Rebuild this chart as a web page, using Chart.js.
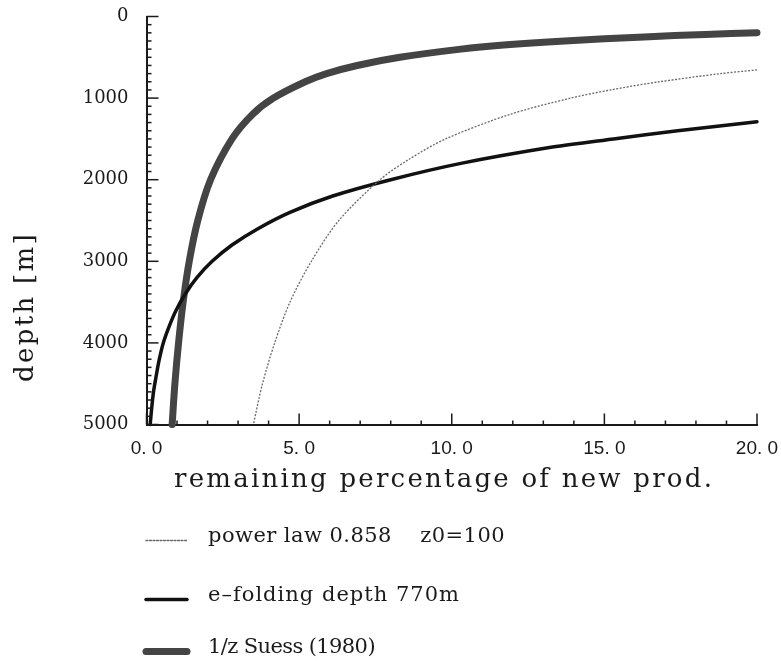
<!DOCTYPE html>
<html>
<head>
<meta charset="utf-8">
<title>remaining percentage of new production vs depth</title>
<script src="https://cdn.jsdelivr.net/npm/chart.js@4.4.1/dist/chart.umd.min.js"></script>
<style>
  html, body { margin: 0; padding: 0; background: #fff; }
  #wrap { width: 781px; height: 664px; }
</style>
</head>
<body>
<div id="wrap"><canvas id="chart" width="781" height="664"></canvas></div>
<script>
// values: depth [m] and remaining percentage for each curve
const powerDepth = [655, 700, 800, 900, 1000, 1200, 1500, 1750, 2000, 2500, 3000, 3500, 4000, 4500, 5000];
const powerPct   = [20.0, 18.8, 16.8, 15.2, 13.9, 11.9, 9.8, 8.6, 7.65, 6.3, 5.4, 4.7, 4.2, 3.8, 3.5];

const efoldDepth = [1290, 1400, 1500, 1600, 1800, 2000, 2200, 2400, 2600, 2800, 3000, 3200, 3400, 3600, 3800, 4000, 4200, 4400, 4600, 4800, 5000];
const efoldPct   = [20.0, 17.4, 15.3, 13.3, 10.3, 8.0, 6.1, 4.7, 3.65, 2.8, 2.15, 1.65, 1.27, 0.97, 0.74, 0.55, 0.42, 0.32, 0.23, 0.17, 0.12];

const suessDepth = [198, 220, 250, 300, 350, 400, 500, 600, 700, 800, 1000, 1200, 1500, 2000, 2500, 3000, 3500, 4000, 4500, 5000];
const suessPct   = [20.0, 18.3, 16.3, 13.7, 11.7, 10.3, 8.3, 6.9, 5.9, 5.2, 4.16, 3.47, 2.8, 2.1, 1.68, 1.4, 1.2, 1.05, 0.93, 0.84];

const legendLabels = ['power law 0.858    z0=100', 'e\u2013folding depth 770m', '1/z Suess (1980)'];

const xTickValues = [0, 5, 10, 15, 20];
const xTickLabels = ['0. 0', '5. 0', '10. 0', '15. 0', '20. 0'];
const yTickValues = [0, 1000, 2000, 3000, 4000, 5000];
const yTickLabels = ['0', '1000', '2000', '3000', '4000', '5000'];

const xTitle = 'remaining percentage of new prod.';
const yTitle = 'depth [m]';

function toPoints(pct, depth) {
  return pct.map((v, i) => ({ x: v, y: depth[i] }));
}

const INK = '#1a1a1a';
const SERIF = '"DejaVu Serif", serif';

// draw text spread (or squeezed) to a given width, like the typewriter lettering of the original
function fitText(ctx, text, x, y, width) {
  ctx.letterSpacing = '0px';
  const w = ctx.measureText(text).width;
  if ('letterSpacing' in ctx) {
    const gap = (width - w) / text.length;
    ctx.letterSpacing = gap.toFixed(2) + 'px';
    ctx.fillText(text, x, y);
    ctx.letterSpacing = '0px';
  } else {
    ctx.save();
    ctx.translate(x, y);
    ctx.scale(width / w, 1);
    ctx.fillText(text, 0, 0);
    ctx.restore();
  }
}

// inward ticks, axis titles and the stacked legend under the plot
const framePlugin = {
  id: 'frame',
  afterDraw(chart) {
    const { ctx, scales: { x, y } } = chart;
    const area = chart.chartArea;
    ctx.save();
    ctx.strokeStyle = INK;
    ctx.lineWidth = 1.5;
    // x ticks every 1, long at every 5
    for (let v = 0; v <= 20; v++) {
      const px = x.getPixelForValue(v);
      const len = v % 5 === 0 ? 11 : 4;
      ctx.beginPath();
      ctx.moveTo(px, area.bottom);
      ctx.lineTo(px, area.bottom - len);
      ctx.stroke();
    }
    // y ticks every 100, long at every 1000
    for (let v = 0; v <= 5000; v += 100) {
      const py = y.getPixelForValue(v);
      const len = v % 1000 === 0 ? 12 : 5;
      ctx.beginPath();
      ctx.moveTo(area.left, py);
      ctx.lineTo(area.left + len, py);
      ctx.stroke();
    }

    // axis titles
    ctx.fillStyle = INK;
    ctx.font = '26px ' + SERIF;
    ctx.textAlign = 'left';
    ctx.textBaseline = 'alphabetic';
    fitText(ctx, xTitle, 174, 487, 540);

    ctx.save();
    ctx.translate(33, 382);
    ctx.rotate(-Math.PI / 2);
    fitText(ctx, yTitle, 0, 0, 150);
    ctx.restore();

    // legend
    const rows = [542, 601, 653];
    const widths = [297, 252, 167];
    ctx.font = '21px ' + SERIF;
    chart.data.datasets.forEach((ds, i) => {
      const yy = rows[i];
      ctx.save();
      ctx.strokeStyle = ds.borderColor;
      ctx.lineWidth = ds.borderWidth;
      ctx.lineCap = 'round';
      ctx.setLineDash(ds.borderDash || []);
      ctx.beginPath();
      ctx.moveTo(146, yy - 1.5);
      ctx.lineTo(187, yy - 1.5);
      ctx.stroke();
      ctx.restore();
      ctx.fillStyle = INK;
      fitText(ctx, legendLabels[i], 208, yy, widths[i]);
    });
    ctx.restore();
  }
};

new Chart(document.getElementById('chart'), {
  type: 'scatter',
  data: {
    datasets: [
      {
        label: legendLabels[0],
        data: toPoints(powerPct, powerDepth),
        showLine: true,
        borderColor: '#6a6a6a',
        borderWidth: 1.3,
        borderDash: [2, 1.5],
        pointRadius: 0,
        tension: 0.3,
        clip: false
      },
      {
        label: legendLabels[1],
        data: toPoints(efoldPct, efoldDepth),
        showLine: true,
        borderColor: '#111111',
        borderWidth: 3.5,
        pointRadius: 0,
        tension: 0.3,
        borderCapStyle: 'round',
        clip: false
      },
      {
        label: legendLabels[2],
        data: toPoints(suessPct, suessDepth),
        showLine: true,
        borderColor: '#444444',
        borderWidth: 7,
        pointRadius: 0,
        tension: 0.3,
        borderCapStyle: 'round',
        clip: false
      }
    ]
  },
  options: {
    responsive: false,
    animation: false,
    devicePixelRatio: 1,
    layout: { padding: { top: 16.5, right: 24, left: 0, bottom: 0 } },
    plugins: {
      legend: { display: false },
      tooltip: { enabled: false }
    },
    scales: {
      x: {
        type: 'linear',
        position: 'bottom',
        min: 0,
        max: 20,
        afterFit: (s) => { s.height = 239.5; s.paddingLeft = 0; s.paddingRight = 0; },
        grid: { display: false, drawTicks: false },
        border: { display: true, color: INK, width: 2 },
        ticks: {
          stepSize: 5,
          autoSkip: false,
          maxRotation: 0,
          padding: 13,
          color: INK,
          font: { family: '"Liberation Sans", sans-serif', size: 19 },
          callback: (v) => {
            const i = xTickValues.indexOf(v);
            return i < 0 ? '' : xTickLabels[i];
          }
        }
      },
      y: {
        type: 'linear',
        reverse: true,
        min: 0,
        max: 5000,
        afterFit: (s) => { s.width = 146.5; s.paddingTop = 0; s.paddingBottom = 0; },
        grid: { display: false, drawTicks: false },
        border: { display: true, color: INK, width: 2 },
        ticks: {
          stepSize: 1000,
          autoSkip: false,
          padding: 18,
          color: INK,
          font: { family: SERIF, size: 18 },
          callback: (v) => {
            const i = yTickValues.indexOf(v);
            return i < 0 ? '' : yTickLabels[i];
          }
        }
      }
    }
  },
  plugins: [framePlugin]
});
</script>
</body>
</html>
